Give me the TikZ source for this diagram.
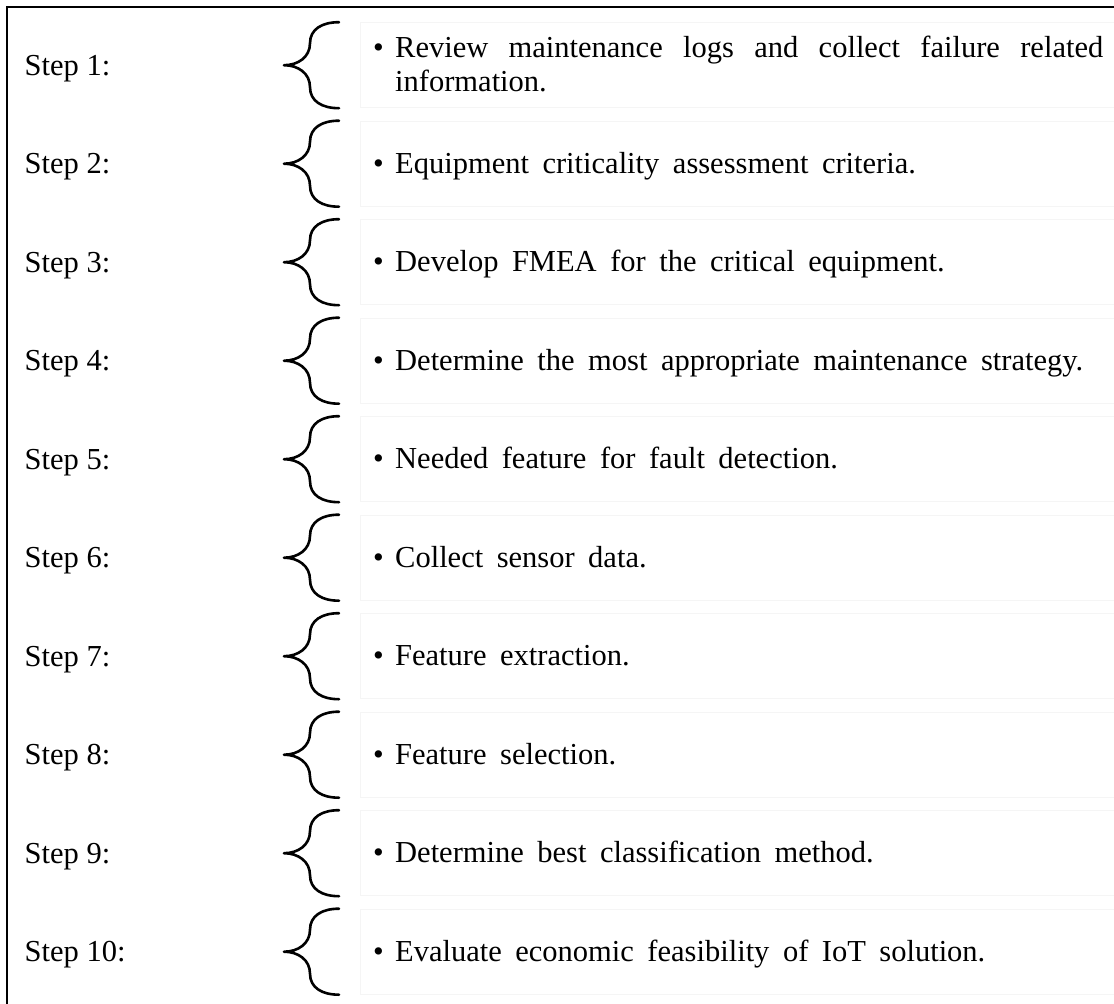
\documentclass[tikz,border=0pt]{standalone}
\usepackage{fontspec}
\setmainfont{Liberation Serif}
\begin{document}
\tikzset{
  steplabel/.style={anchor=base west, inner sep=0pt, font=\fontsize{30.5}{34}\selectfont},
  itemtext/.style={anchor=base west, inner sep=0pt, font=\fontsize{30.5}{34}\selectfont},
  curly/.style={line width=2.6pt, line cap=round, line join=round},
  faintbox/.style={draw=black!4, line width=1pt},
  frameline/.style={line width=2pt},
  curlybrace/.pic={\draw[curly] (55,-43) .. controls (38,-43) and (26,-36) .. (26,-22)
      .. controls (26,-8) and (14,0) .. (0,0)
      .. controls (14,0) and (26,8) .. (26,22)
      .. controls (26,36) and (38,43) .. (55,43);}
}
\begin{tikzpicture}[x=1pt,y=-1pt]
\clip (0,0) rectangle (1114,1004);
\fill[white] (0,0) rectangle (1114,1004);
\draw[frameline] (7,1010) -- (7,7) -- (1120,7);
\foreach \i/\dy/\txt in {
  1/-8.2/{Review maintenance logs and collect failure related\linebreak information.},
  2/9.5/{Equipment criticality assessment criteria.},
  3/9.5/{Develop FMEA for the critical equipment.},
  4/9.5/{Determine the most appropriate maintenance strategy.},
  5/9.5/{Needed feature for fault detection.},
  6/9.5/{Collect sensor data.},
  7/9.5/{Feature extraction.},
  8/9.5/{Feature selection.},
  9/9.5/{Determine best classification method.},
  10/9.5/{Evaluate economic feasibility of IoT solution.}}{
  \pgfmathsetmacro\T{22.7+98.5*(\i-1)}
  \pgfmathsetmacro\C{\T+42.5}
  \draw[faintbox] (360,\T) rectangle (1130,\T+85);
  \node[steplabel] (s\i) at (24.5,\C+10.2) {Step \i:};
  \node[itemtext] (t\i) at (373,\C+\dy) {\parbox[t]{730pt}{\hyphenpenalty=10000\spaceskip=13.5pt plus 30pt minus 2pt\noindent\hangindent=22pt\hangafter=1\makebox[22pt][l]{\textbullet}\txt}};
  \pic (b\i) at (284,\C) {curlybrace};
}
\end{tikzpicture}
\end{document}
